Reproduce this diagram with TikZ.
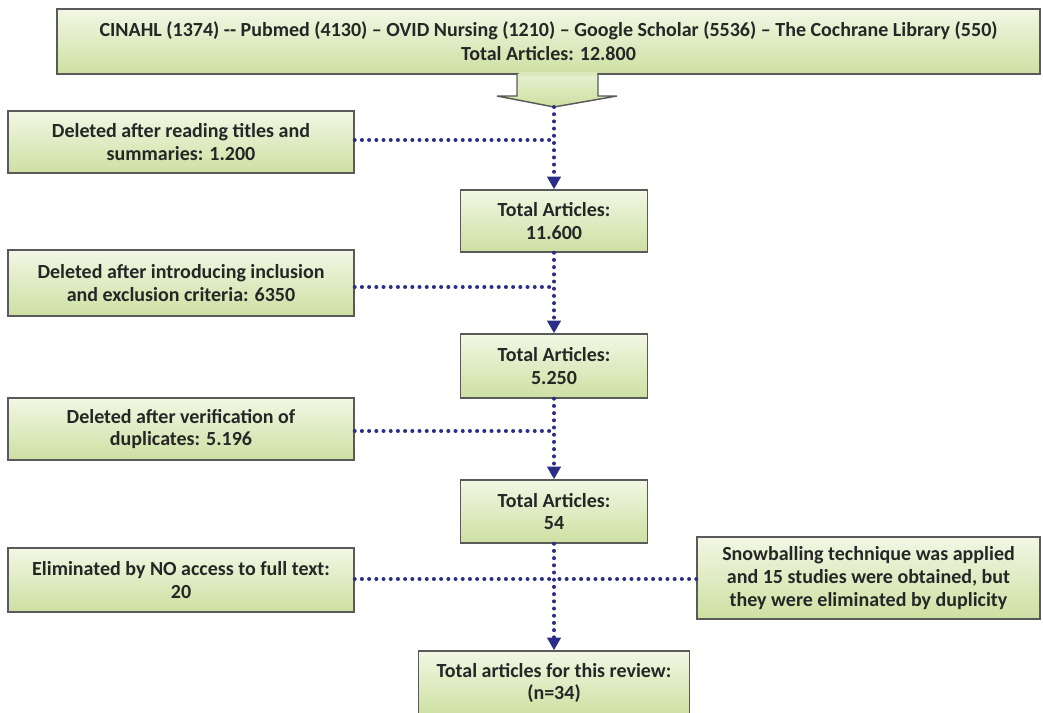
\documentclass[tikz,border=0pt]{standalone}
\usepackage{fontspec}
\setmainfont{Carlito}
\usetikzlibrary{arrows.meta,calc}
\definecolor{boxtop}{HTML}{F2F7E4}
\definecolor{boxbot}{HTML}{CDE0A2}
\definecolor{boxline}{HTML}{5A5A5A}
\definecolor{dotcol}{HTML}{2B2E86}
\tikzset{
  box/.style={draw=boxline, line width=1.1pt, top color=boxtop, bottom color=boxbot,
    align=center, inner sep=0pt, font=\bfseries\fontsize{15}{17}\selectfont, text=black!85},
  dotline/.style={draw=dotcol, line width=3pt, line cap=round, dash pattern=on 0pt off 5.4pt},
  dotarrow/.style={dotline, -{Triangle[length=9.5pt,width=10pt]}},
}
\begin{document}
\begin{tikzpicture}[x=0.75pt,y=-0.75pt]
\useasboundingbox (0,0) rectangle (1043,713);
% top box
\node[box, minimum width=983*0.75pt, minimum height=65*0.75pt, font=\bfseries\fontsize{15}{18}\selectfont] (top) at (548.5,41.5)
  {CINAHL (1374) -{}- Pubmed (4130) -- OVID Nursing (1210) -- Google Scholar (5536) -- The Cochrane Library (550)\\Total Articles: 12.800};
% block arrow
\path[draw=boxline, line width=1.1pt, top color=boxtop!70!boxbot, bottom color=boxbot]
  (517,74) -- (517,96) -- (497,96) -- (554,107) -- (617,96) -- (598,96) -- (598,74);
\fill[boxtop!40!boxbot] (518.5,72) rectangle (596.5,76);
\coordinate (tip) at (554,107);
% left boxes
\node[box, minimum width=346*0.75pt, minimum height=62*0.75pt] (l1) at (181,142)
  {Deleted after reading titles and\\summaries: 1.200};
\node[box, minimum width=346*0.75pt, minimum height=66*0.75pt] (l2) at (181,283)
  {Deleted after introducing inclusion\\and exclusion criteria: 6350};
\node[box, minimum width=346*0.75pt, minimum height=62*0.75pt] (l3) at (181,429)
  {Deleted after verification of\\duplicates: 5.196};
\node[box, minimum width=346*0.75pt, minimum height=64*0.75pt] (l4) at (181,580)
  {Eliminated by NO access to full text:\\20};
% center boxes
\node[box, minimum width=187*0.75pt, minimum height=62*0.75pt] (b1) at (554,221)
  {Total Articles:\\11.600};
\node[box, minimum width=187*0.75pt, minimum height=64*0.75pt] (b2) at (554,366)
  {Total Articles:\\5.250};
\node[box, minimum width=187*0.75pt, minimum height=63*0.75pt] (b3) at (554,511.5)
  {Total Articles:\\54};
\node[box, minimum width=271*0.75pt, minimum height=64*0.75pt] (fin) at (554,683)
  {Total articles for this review:\\(n=34)};
% right box
\node[box, minimum width=343*0.75pt, minimum height=82*0.75pt] (r1) at (868.5,578)
  {Snowballing technique was applied\\and 15 studies were obtained, but\\they were eliminated by duplicity};
% connectors
\draw[dotarrow] (tip) -- (b1.north);
\draw[dotarrow] (b1.south) -- (b2.north);
\draw[dotarrow] (b2.south) -- (b3.north);
\draw[dotarrow] (b3.south) -- (fin.north);
\draw[dotline] (l1.east |- 0,140) -- (tip |- 0,140);
\draw[dotline] (l2.east |- 0,287) -- (b1.south |- 0,287);
\draw[dotline] (l3.east |- 0,431) -- (b2.south |- 0,431);
\draw[dotline] (l4.east |- 0,579) -- (b3.south |- 0,579);
\draw[dotline] (r1.west |- 0,579) -- (b3.south |- 0,579);
\end{tikzpicture}
\end{document}
